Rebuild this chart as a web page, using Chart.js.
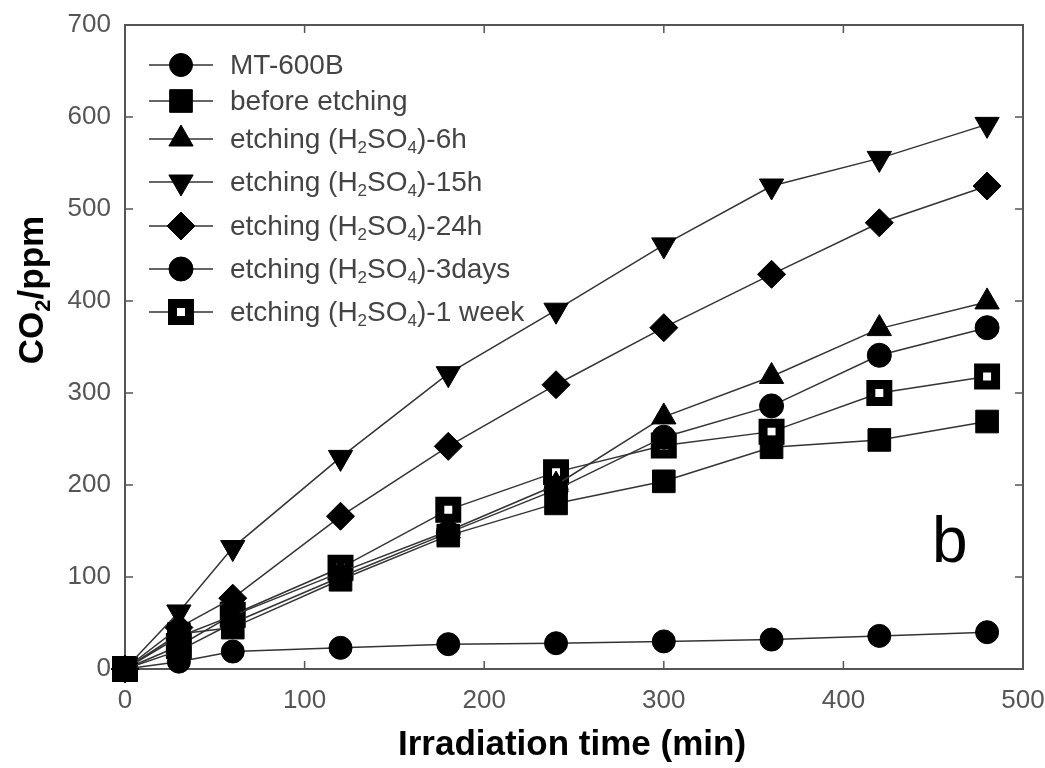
<!DOCTYPE html>
<html>
<head>
<meta charset="utf-8">
<script src="https://cdn.jsdelivr.net/npm/chart.js@4.4.0/dist/chart.umd.min.js"></script>
<style>
  html, body { margin: 0; padding: 0; background: #fff; }
  #wrap { width: 1045px; height: 768px; }
</style>
</head>
<body>
<div id="wrap"><canvas id="co2Chart" width="1045" height="768"></canvas></div>
<script>
// irradiation time (min)
const times = [0, 30, 60, 120, 180, 240, 300, 360, 420, 480];

// CO2 (ppm)
const mt600b = [0, 8, 19, 23, 27, 28, 30, 32, 36, 40];
const beforeEtching = [0, 38, 45, 97, 145, 180, 204, 241, 249, 269];
const etch6h = [0, 35, 58, 105, 150, 200, 274, 318, 370, 399];
const etch15h = [0, 62, 132, 230, 321, 390, 461, 525, 555, 592];
const etch24h = [0, 45, 77, 166, 242, 309, 371, 429, 485, 525];
const etch3days = [0, 20, 50, 100, 148, 195, 252, 286, 341, 371];
const etch1week = [0, 25, 59, 110, 173, 214, 243, 258, 300, 318];

const seriesLabels = [
  'MT-600B',
  'before etching',
  'etching (H2SO4)-6h',
  'etching (H2SO4)-15h',
  'etching (H2SO4)-24h',
  'etching (H2SO4)-3days',
  'etching (H2SO4)-1 week'
];
const seriesValues = [mt600b, beforeEtching, etch6h, etch15h, etch24h, etch3days, etch1week];

const xTicks = [0, 100, 200, 300, 400, 500];
const yTicks = [0, 100, 200, 300, 400, 500, 600, 700];

// marker look per series
const markers = [
  { style: 'circle', radius: 11.5, rotation: 0, fill: '#000', border: 1 },
  { style: 'rect', radius: 16, rotation: 0, fill: '#000', border: 1 },
  { style: 'triangle', radius: 14, rotation: 0, fill: '#000', border: 1 },
  { style: 'triangle', radius: 14, rotation: 180, fill: '#000', border: 1 },
  { style: 'rectRot', radius: 14, rotation: 0, fill: '#000', border: 1 },
  { style: 'circle', radius: 12, rotation: 0, fill: '#000', border: 1 },
  { style: 'rect', radius: 12, rotation: 0, fill: '#fff', border: 9 }
];

const FONT = '"Liberation Sans", Arial, sans-serif';

function richParts(label) {
  const i = label.indexOf('H2SO4');
  if (i < 0) return [[label, false]];
  return [[label.slice(0, i) + 'H', false], ['2', true], ['SO', false], ['4', true], [label.slice(i + 5), false]];
}

function drawRich(ctx, parts, x, y, size, weight, measureOnly) {
  let cx = x;
  for (const [t, sub] of parts) {
    const s = sub ? Math.round(size * 0.62) : size;
    ctx.font = weight + ' ' + s + 'px ' + FONT;
    if (!measureOnly) ctx.fillText(t, cx, sub ? y + size * 0.3 : y);
    cx += ctx.measureText(t).width;
  }
  return cx - x;
}

const datasets = seriesLabels.map((label, i) => ({
  label: label,
  data: times.map((t, j) => ({ x: t, y: seriesValues[i][j] })),
  borderColor: '#333',
  borderWidth: 1.5,
  pointStyle: markers[i].style,
  pointRadius: markers[i].radius,
  pointHoverRadius: markers[i].radius,
  pointRotation: markers[i].rotation,
  pointBackgroundColor: markers[i].fill,
  pointBorderColor: '#000',
  pointBorderWidth: markers[i].border,
  clip: false,
  tension: 0
}));

const framePlugin = {
  id: 'frame',
  beforeDatasetsDraw(chart) {
    const { ctx, chartArea: a, scales } = chart;
    ctx.save();
    ctx.strokeStyle = '#555';
    ctx.lineWidth = 2;
    ctx.strokeRect(a.left, a.top, a.right - a.left, a.bottom - a.top);
    ctx.lineWidth = 1.5;
    ctx.beginPath();
    xTicks.forEach(v => {
      const px = scales.x.getPixelForValue(v);
      if (px <= a.left + 1 || px >= a.right - 1) return;
      ctx.moveTo(px, a.bottom); ctx.lineTo(px, a.bottom - 8);
      ctx.moveTo(px, a.top); ctx.lineTo(px, a.top + 8);
    });
    yTicks.forEach(v => {
      const py = scales.y.getPixelForValue(v);
      if (py <= a.top + 1 || py >= a.bottom - 1) return;
      ctx.moveTo(a.left, py); ctx.lineTo(a.left + 8, py);
      ctx.moveTo(a.right, py); ctx.lineTo(a.right - 8, py);
    });
    ctx.stroke();
    ctx.restore();
  },
  afterDraw(chart) {
    const { ctx } = chart;
    ctx.save();

    // legend inside the plot
    const rowY = [65, 101, 139, 182, 226, 269, 312];
    chart.data.datasets.forEach((ds, i) => {
      const y = rowY[i];
      ctx.strokeStyle = '#333';
      ctx.lineWidth = 1.5;
      ctx.beginPath();
      ctx.moveTo(149, y); ctx.lineTo(213, y);
      ctx.stroke();
      ctx.fillStyle = markers[i].fill;
      ctx.strokeStyle = '#000';
      ctx.lineWidth = markers[i].border;
      Chart.helpers.drawPoint(ctx, {
        pointStyle: markers[i].style,
        radius: markers[i].radius,
        rotation: markers[i].rotation,
        borderWidth: markers[i].border
      }, 181, y);
      ctx.fillStyle = '#444';
      ctx.textBaseline = 'middle';
      ctx.textAlign = 'left';
      drawRich(ctx, richParts(ds.label), 230, y + 1, 28, 'normal');
    });

    // panel letter
    ctx.fillStyle = '#000';
    ctx.textBaseline = 'alphabetic';
    ctx.font = 'normal 64px ' + FONT;
    ctx.fillText('b', 932, 562);

    // x axis title
    ctx.textBaseline = 'middle';
    const xt = [['Irradiation time (min)', false]];
    const xw = drawRich(ctx, xt, 0, 0, 35, 'bold', true);
    drawRich(ctx, xt, 572 - xw / 2, 745, 35, 'bold');

    // y axis title
    const yt = [['CO', false], ['2', true], ['/ppm', false]];
    const yw = drawRich(ctx, yt, 0, 0, 35, 'bold', true);
    ctx.translate(33, 290);
    ctx.rotate(-Math.PI / 2);
    drawRich(ctx, yt, -yw / 2, 0, 35, 'bold');
    ctx.restore();
  }
};

new Chart(document.getElementById('co2Chart'), {
  type: 'line',
  data: { datasets: datasets },
  options: {
    responsive: false,
    animation: false,
    layout: { padding: { left: 0, top: 25, right: 22, bottom: 0 } },
    plugins: { legend: { display: false }, tooltip: { enabled: false } },
    scales: {
      x: {
        type: 'linear',
        min: 0,
        max: 500,
        afterBuildTicks: s => { s.ticks = xTicks.map(v => ({ value: v })); },
        afterFit: s => { s.height = 768 - 669; s.paddingLeft = 0; s.paddingRight = 0; },
        grid: { display: false, drawTicks: false },
        border: { display: false },
        ticks: { color: '#555', padding: 16, font: { size: 26, family: FONT } }
      },
      y: {
        type: 'linear',
        min: 0,
        max: 700,
        afterBuildTicks: s => { s.ticks = yTicks.map(v => ({ value: v })); },
        afterFit: s => { s.width = 125; s.paddingTop = 0; s.paddingBottom = 0; },
        grid: { display: false, drawTicks: false },
        border: { display: false },
        ticks: { color: '#555', padding: 14, font: { size: 26, family: FONT } }
      }
    }
  },
  plugins: [framePlugin]
});
</script>
</body>
</html>
